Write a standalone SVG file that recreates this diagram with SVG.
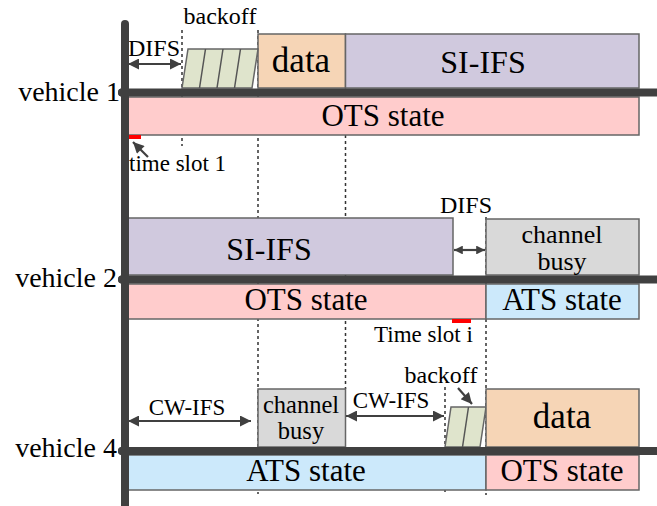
<svg xmlns="http://www.w3.org/2000/svg" width="657" height="506" viewBox="0 0 657 506">
<defs>
<style>
text{font-family:"Liberation Serif","Times New Roman",serif;fill:#000}
.box{stroke:#666;stroke-width:1.5}
.ots{fill:#ffcccc}.ats{fill:#cce9fb}.sif{fill:#d0c9de}.dat{fill:#f6d5b6}.busy{fill:#d9d9d9}.bo{fill:#dfe4cc}
.axis{stroke:#404040;stroke-width:8;stroke-linecap:round}
.dot{stroke:#333;stroke-width:1.5;stroke-dasharray:3 3;fill:none}
.arr{stroke:#404040;stroke-width:2.2;fill:none}
.slant{stroke:#555;stroke-width:1.5;fill:none}
.c{text-anchor:middle}.e{text-anchor:end}
</style>
<marker id="ah" viewBox="0 0 10 10" refX="10" refY="5" markerWidth="6" markerHeight="5" markerUnits="strokeWidth" orient="auto-start-reverse">
<path d="M0,0L10,5L0,10z" fill="#404040"/>
</marker>
<marker id="ahs" viewBox="0 0 10 10" refX="10" refY="5" markerWidth="4.5" markerHeight="4" markerUnits="strokeWidth" orient="auto-start-reverse">
<path d="M0,0L10,5L0,10z" fill="#404040"/>
</marker>
</defs>
<rect width="657" height="506" fill="#fff"/>

<g id="guides">
<line class="dot" x1="182" y1="30" x2="182" y2="146"/>
<line class="dot" x1="258" y1="30" x2="258" y2="494"/>
<line class="dot" x1="345.5" y1="135" x2="345.5" y2="389"/>
<line class="dot" x1="486" y1="217" x2="486" y2="495"/>
<line class="dot" x1="445" y1="387" x2="445" y2="495"/>
</g>

<g id="vehicle1">
<rect class="box ots" x="127" y="97" width="512" height="38"/>
<text class="c" x="383" y="126" font-size="31">OTS state</text>
<rect class="box dat" x="258" y="34" width="87.5" height="54"/>
<text class="c" x="301" y="72" font-size="35">data</text>
<rect class="box sif" x="345.5" y="34" width="293.5" height="54"/>
<text class="c" x="483" y="73" font-size="32">SI-IFS</text>
<polygon class="box bo" points="182,88 188,49 258,49 252,88"/>
<path class="slant" d="M199.5,88L205.5,49M217,88L223,49M234.5,88L240.5,49"/>
<text class="c" x="220" y="24" font-size="24">backoff</text>
<text class="c" x="154" y="56" font-size="24">DIFS</text>
<rect x="127" y="135" width="14" height="4" fill="#ff0000"/>
<text x="129" y="171" font-size="23">time slot 1</text>
<text class="e" x="120" y="101" font-size="28">vehicle 1</text>
</g>

<g id="vehicle2">
<rect class="box sif" x="127" y="218" width="326" height="57"/>
<text class="c" x="269" y="260" font-size="32">SI-IFS</text>
<rect class="box busy" x="486" y="219" width="153" height="56"/>
<text class="c" x="562" y="243" font-size="26">channel</text>
<text class="c" x="562" y="270" font-size="26">busy</text>
<rect class="box ots" x="127" y="284" width="359" height="35"/>
<text class="c" x="306" y="310" font-size="31">OTS state</text>
<rect class="box ats" x="486" y="284" width="153" height="35"/>
<text class="c" x="562" y="310" font-size="31">ATS state</text>
<text class="c" x="466" y="213" font-size="24">DIFS</text>
<rect x="452" y="319" width="19" height="4" fill="#ff0000"/>
<text x="374" y="342" font-size="23">Time slot i</text>
<text class="e" x="117" y="287" font-size="28">vehicle 2</text>
</g>

<g id="vehicle4">
<rect class="box busy" x="258" y="389" width="87.5" height="58"/>
<text class="c" x="301" y="413" font-size="24.5">channel</text>
<text class="c" x="301" y="439" font-size="24.5">busy</text>
<polygon class="box bo" points="445,447 451,407 486,407 480,447"/>
<path class="slant" d="M462.5,447L468.5,407"/>
<text class="c" x="441" y="383" font-size="24">backoff</text>
<rect class="box dat" x="486" y="389" width="153" height="58"/>
<text class="c" x="562" y="428" font-size="35">data</text>
<rect class="box ats" x="127" y="455" width="359" height="35"/>
<text class="c" x="306" y="481" font-size="31">ATS state</text>
<rect class="box ots" x="486" y="455" width="153" height="35"/>
<text class="c" x="562" y="481" font-size="31">OTS state</text>
<text class="c" x="187" y="415" font-size="23">CW-IFS</text>
<text class="c" x="391" y="408" font-size="23">CW-IFS</text>
<text class="e" x="117" y="457" font-size="28">vehicle 4</text>
</g>

<g id="connectors">
<line class="axis" x1="125" y1="24" x2="125" y2="510" stroke-width="5"/>
<line class="axis" x1="122" y1="92.5" x2="660" y2="92.5" stroke-linecap="butt"/>
<circle cx="122" cy="92.5" r="4" fill="#404040"/>
<line class="axis" x1="122" y1="279.5" x2="660" y2="279.5" stroke-linecap="butt"/>
<circle cx="122" cy="279.5" r="4" fill="#404040"/>
<line class="axis" x1="122" y1="451" x2="660" y2="451" stroke-linecap="butt"/>
<circle cx="122" cy="451" r="4" fill="#404040"/>
<line class="arr" x1="128" y1="64" x2="181" y2="64" marker-start="url(#ah)" marker-end="url(#ah)"/>
<line class="arr" x1="454" y1="250" x2="485" y2="250" marker-start="url(#ahs)" marker-end="url(#ahs)"/>
<line class="arr" x1="128" y1="421" x2="251" y2="421" marker-start="url(#ah)" marker-end="url(#ah)"/>
<line class="arr" x1="346" y1="416" x2="444" y2="416" marker-start="url(#ah)" marker-end="url(#ah)"/>
<line class="arr" x1="148" y1="157" x2="133" y2="142" stroke-width="2" marker-end="url(#ah)"/>
<line class="arr" x1="458" y1="388" x2="472" y2="404" stroke-width="2" marker-end="url(#ah)"/>
</g>
</svg>
